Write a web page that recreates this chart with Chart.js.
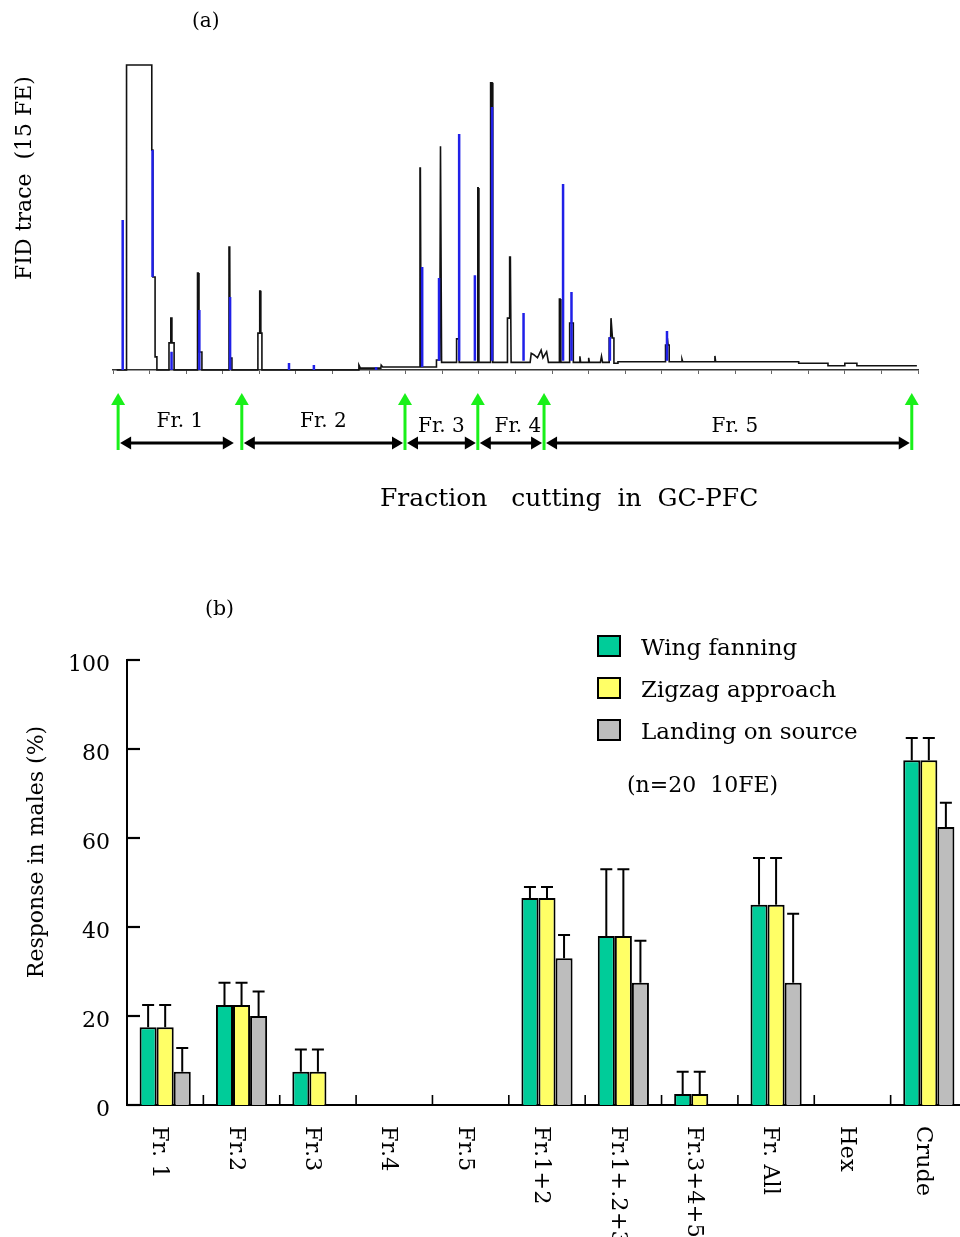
<!DOCTYPE html>
<html>
<head>
<meta charset="utf-8">
<script src="https://cdn.jsdelivr.net/npm/chart.js@4.4.1/dist/chart.umd.min.js"></script>
<style>
  html, body { margin: 0; padding: 0; background: #fff; overflow: hidden; width: 960px; height: 1237px; }
  #wrapA { position: absolute; left: 0; top: 0; width: 960px; height: 540px; }
  #wrapB { position: absolute; left: 0; top: 540px; width: 980px; height: 697px; }
</style>
</head>
<body>
<div id="wrapA"><canvas id="gc" width="960" height="540"></canvas></div>
<div id="wrapB"><canvas id="bio" width="980" height="697"></canvas></div>
<script>
const SERIF = '"DejaVu Serif", serif';

// ---------- (a) GC-FID trace, retention time (min) vs signal (% full scale) ----------
const blackTime = [2.70,2.97,2.97,3.66,3.66,3.69,3.69,3.75,3.75,3.80,3.80,
  4.13,4.13,4.18,4.18,4.21,4.21,4.27,4.27,
  4.90,4.91,4.93,4.95,5.03,5.03,
  5.75,5.77,5.79,5.80,5.85,5.85,
  6.56,6.56,6.60,6.61,6.63,6.64,6.67,6.67,
  9.31,9.32,9.36,9.92,9.93,9.97,
  10.97,10.99,11.00,11.02,11.44,11.44,11.53,11.55,11.56,11.58,
  11.99,11.99,12.06,12.06,
  12.55,12.57,12.58,12.60,
  12.91,12.92,12.96,12.98,
  13.38,13.38,13.43,13.44,13.46,13.48,
  14.00,14.03,14.10,14.20,14.30,14.35,14.45,14.50,
  14.79,14.80,14.82,14.84,
  15.08,15.08,15.18,15.18,
  15.35,15.36,15.38,15.59,15.60,15.62,15.92,15.95,15.98,
  16.16,16.16,16.20,16.21,16.23,16.25,16.29,16.29,16.40,16.40,
  17.70,17.70,17.74,17.75,17.77,17.80,17.80,
  18.14,18.15,18.17,
  19.04,19.05,19.07,
  21.34,21.34,22.14,22.14,22.60,22.60,22.93,22.93,24.57];
const blackSignal = [0,0,100,100,72.1,72.1,30.5,30.5,4.3,4.3,0,
  0,8.9,8.9,17.0,17.0,8.9,8.9,0,
  0,31.8,31.8,5.9,5.9,0,
  0,40.3,40.3,3.9,3.9,0,
  0,12.1,12.1,25.9,25.9,12.1,12.1,0,
  0,1.6,0.6,0.6,1.6,1.0,
  1.0,66.2,66.2,1.0,1.0,3.3,3.3,73.4,73.4,2.5,
  2.5,10.2,10.2,2.5,
  2.5,59.7,59.7,2.5,
  2.5,94.2,94.2,2.5,
  2.5,17.0,17.0,37.0,37.0,2.5,
  2.5,5.5,5.0,4.0,6.5,4.0,6.0,2.5,
  2.5,23.3,23.3,2.5,
  2.5,15.4,15.4,2.5,
  2.5,4.5,2.5,2.5,4.0,2.5,2.5,4.5,2.5,
  2.5,10.5,10.5,17.0,17.0,10.5,10.5,2.2,2.2,2.7,
  2.7,8.2,8.2,10.5,8.2,8.2,2.7,
  2.7,3.5,2.7,
  2.7,4.6,2.7,
  2.7,2.2,2.2,1.4,1.4,2.2,2.2,1.4,1.4];

// second (blue) trace: peak apexes drawn as vertical strokes
const blueTime = [2.865,3.68,4.20,4.96,5.80,7.41,8.09,9.79,11.05,11.51,12.06,12.49,12.96,13.82,14.90,15.13,16.18,17.74];
const blueFrom = [0,30.5,0,0,0,0,0,0,1,3,3,3,3,3,3,3,3,3];
const blueTo   = [49.2,72.1,6.0,19.7,23.9,2.3,1.6,1.0,33.8,30.2,77.4,31.1,86.2,18.7,61.0,25.6,10.8,12.8];

// fraction cut times (min) and fraction names
const cutTimes = [2.74, 6.12, 10.58, 12.57, 14.38, 24.43];
const fractionNames = ['Fr. 1', 'Fr. 2', 'Fr. 3', 'Fr. 4', 'Fr. 5'];

// ---------- (b) male responses ----------
const treatments = ['Fr. 1','Fr.2','Fr.3','Fr.4','Fr.5','Fr.1+2','Fr.1+.2+3','Fr.3+4+5','Fr. All','Hex','Crude'];
const wingFanning = [17.5, 22.5, 7.5, 0, 0, 46.5, 38, 2.5, 45, 0, 77.5];
const zigzag      = [17.5, 22.5, 7.5, 0, 0, 46.5, 38, 2.5, 45, 0, 77.5];
const landing     = [7.5, 20, 0, 0, 0, 33, 27.5, 0, 27.5, 0, 62.5];
const wingErr     = [5, 5, 5, 0, 0, 2.5, 15, 5, 10.5, 0, 5];
const zigzagErr   = [5, 5, 5, 0, 0, 2.5, 15, 5, 10.5, 0, 5];
const landingErr  = [5.3, 5.5, 0, 0, 0, 5.2, 9.4, 0, 15.5, 0, 5.4];
const yTickValues = [0, 20, 40, 60, 80, 100];

// ---------- build panel (a) ----------
const blackPoints = blackTime.map((t, i) => ({ x: t, y: blackSignal[i] }));
const bluePoints = [];
blueTime.forEach((t, i) => {
  bluePoints.push({ x: t, y: blueFrom[i] }, { x: t, y: blueTo[i] }, { x: t, y: null });
});

function arrowHead(ctx, x, y, dx, dy, len, half) {
  // triangle with tip at (x,y) pointing along (dx,dy)
  const px = -dy, py = dx;
  ctx.beginPath();
  ctx.moveTo(x, y);
  ctx.lineTo(x - dx * len + px * half, y - dy * len + py * half);
  ctx.lineTo(x - dx * len - px * half, y - dy * len - py * half);
  ctx.closePath();
  ctx.fill();
}

const gcDecor = {
  id: 'gcDecor',
  afterDraw(chart) {
    const ctx = chart.ctx;
    const xs = chart.scales.x;
    ctx.save();
    ctx.fillStyle = '#000';
    ctx.textBaseline = 'middle';
    ctx.font = '20px ' + SERIF;
    ctx.textAlign = 'left';
    ctx.fillText('(a)', 192, 22);

    ctx.save();
    ctx.translate(25, 178);
    ctx.rotate(-Math.PI / 2);
    ctx.textAlign = 'center';
    ctx.font = '22px ' + SERIF;
    ctx.fillText('FID trace  (15 FE)', 0, 0);
    ctx.restore();

    ctx.textAlign = 'left';
    ctx.font = '25px ' + SERIF;
    ctx.fillText('Fraction   cutting  in  GC-PFC', 380, 499);

    // fraction spans (double-headed arrows)
    const yArr = 443;
    ctx.strokeStyle = '#000';
    ctx.lineWidth = 3;
    for (let i = 0; i < fractionNames.length; i++) {
      const a = xs.getPixelForValue(cutTimes[i]) + 2;
      const b = xs.getPixelForValue(cutTimes[i + 1]) - (i === 0 ? 8 : 2);
      ctx.beginPath();
      ctx.moveTo(a + 6, yArr);
      ctx.lineTo(b - 6, yArr);
      ctx.stroke();
      arrowHead(ctx, a, yArr, -1, 0, 11, 6.5);
      arrowHead(ctx, b, yArr, 1, 0, 11, 6.5);
      ctx.font = '20px ' + SERIF;
      ctx.textAlign = 'center';
      const mid = (xs.getPixelForValue(cutTimes[i]) + xs.getPixelForValue(cutTimes[i + 1])) / 2;
      ctx.fillText(fractionNames[i], mid + (i >= 3 ? 7 : 0), i < 2 ? 422 : 427);
    }

    // cut markers (green arrows)
    ctx.strokeStyle = '#19f019';
    ctx.fillStyle = '#19f019';
    ctx.lineWidth = 3;
    cutTimes.forEach((t) => {
      const x = xs.getPixelForValue(t);
      ctx.beginPath();
      ctx.moveTo(x, 450);
      ctx.lineTo(x, 403);
      ctx.stroke();
      arrowHead(ctx, x, 393, 0, -1, 12, 7);
    });
    ctx.restore();
  }
};

new Chart(document.getElementById('gc'), {
  type: 'line',
  data: {
    datasets: [
      { label: 'blue', data: bluePoints, borderColor: '#2020e8', borderWidth: 2.5,
        pointRadius: 0, spanGaps: false, tension: 0, clip: false },
      { label: 'black', data: blackPoints, borderColor: '#111', borderWidth: 1.6,
        pointRadius: 0, tension: 0, clip: false }
    ]
  },
  options: {
    responsive: false,
    animation: false,
    events: [],
    layout: { padding: { left: 113, right: 42, top: 65, bottom: 166 } },
    plugins: { legend: { display: false }, tooltip: { enabled: false } },
    scales: {
      x: {
        type: 'linear', min: 2.6, max: 24.6,
        ticks: { display: false, stepSize: 1 },
        grid: { display: true, drawOnChartArea: false, drawTicks: true, tickLength: 4, color: '#666', lineWidth: 1 },
        border: { display: true, color: '#333', width: 1.5 },
        afterFit(s) { s.height = 4; }
      },
      y: { display: false, min: 0, max: 100 }
    }
  },
  plugins: [gcDecor]
});

// ---------- build panel (b) ----------
const errorSets = [wingErr, zigzagErr, landingErr];

const bioDecor = {
  id: 'bioDecor',
  afterDatasetsDraw(chart) {
    const ctx = chart.ctx;
    const ys = chart.scales.y;
    ctx.save();
    ctx.strokeStyle = '#000';
    ctx.lineWidth = 2;
    chart.data.datasets.forEach((ds, d) => {
      const meta = chart.getDatasetMeta(d);
      ds.data.forEach((v, i) => {
        const e = errorSets[d][i];
        if (!e) return;
        const x = meta.data[i].x;
        const y0 = ys.getPixelForValue(v);
        const y1 = ys.getPixelForValue(v + e);
        ctx.beginPath();
        ctx.moveTo(x, y0);
        ctx.lineTo(x, y1);
        ctx.moveTo(x - 6, y1);
        ctx.lineTo(x + 6, y1);
        ctx.stroke();
      });
    });
    ctx.restore();
  },
  afterDraw(chart) {
    const ctx = chart.ctx;
    const xs = chart.scales.x, ys = chart.scales.y;
    const area = chart.chartArea;
    ctx.save();
    ctx.strokeStyle = '#000';
    ctx.lineWidth = 2.2;
    // inward y ticks
    yTickValues.forEach((v) => {
      const y = ys.getPixelForValue(v);
      ctx.beginPath();
      ctx.moveTo(area.left, y);
      ctx.lineTo(area.left + 13, y);
      ctx.stroke();
    });
    // category dividers on the x axis
    ctx.lineWidth = 1.6;
    for (let i = 1; i < treatments.length; i++) {
      const x = (xs.getPixelForValue(i - 1) + xs.getPixelForValue(i)) / 2;
      ctx.beginPath();
      ctx.moveTo(x, area.bottom);
      ctx.lineTo(x, area.bottom - 10);
      ctx.stroke();
    }

    ctx.fillStyle = '#000';
    ctx.textBaseline = 'middle';
    // category labels, reading downward
    ctx.font = '22.5px ' + SERIF;
    treatments.forEach((lab, i) => {
      const x = xs.getPixelForValue(i) - 6;
      ctx.save();
      ctx.translate(x, area.bottom + 21);
      ctx.rotate(Math.PI / 2);
      ctx.textAlign = 'left';
      ctx.fillText(lab, 0, 0);
      ctx.restore();
    });

    // y title
    ctx.save();
    ctx.translate(37, 312);
    ctx.rotate(-Math.PI / 2);
    ctx.textAlign = 'center';
    ctx.font = '22px ' + SERIF;
    ctx.fillText('Response in males (%)', 0, 0);
    ctx.restore();

    ctx.textAlign = 'left';
    ctx.font = '20.5px ' + SERIF;
    ctx.fillText('(b)', 205, 70);

    // legend
    ctx.font = '23px ' + SERIF;
    chart.data.datasets.forEach((ds, d) => {
      const top = 96 + d * 42;
      ctx.fillStyle = ds.backgroundColor;
      ctx.fillRect(598, top, 22, 20);
      ctx.lineWidth = 2;
      ctx.strokeStyle = '#000';
      ctx.strokeRect(598, top, 22, 20);
      ctx.fillStyle = '#000';
      ctx.fillText(ds.label, 641, top + 13);
    });
    ctx.font = '22px ' + SERIF;
    ctx.fillText('(n=20  10FE)', 627, 246);
    ctx.restore();
  }
};

const barCommon = { borderColor: '#000', borderWidth: 2, barPercentage: 1, categoryPercentage: 0.67 };

new Chart(document.getElementById('bio'), {
  type: 'bar',
  data: {
    labels: treatments,
    datasets: [
      Object.assign({ label: 'Wing fanning', data: wingFanning, backgroundColor: '#00cc99' }, barCommon),
      Object.assign({ label: 'Zigzag approach', data: zigzag, backgroundColor: '#ffff66' }, barCommon),
      Object.assign({ label: 'Landing on source', data: landing, backgroundColor: '#bdbdbd' }, barCommon)
    ]
  },
  options: {
    responsive: false,
    animation: false,
    events: [],
    layout: { padding: { left: 0, right: 13, top: 120, bottom: 132 } },
    plugins: { legend: { display: false }, tooltip: { enabled: false } },
    scales: {
      x: {
        ticks: { display: false },
        grid: { display: false, drawTicks: false },
        border: { display: true, color: '#000', width: 2 },
        afterFit(s) { s.height = 0; }
      },
      y: {
        min: 0, max: 100,
        ticks: { stepSize: 20, color: '#000', padding: 17, labelOffset: 5, font: { family: SERIF, size: 22 } },
        grid: { display: false, drawTicks: false },
        border: { display: true, color: '#000', width: 2 },
        afterFit(s) { s.width = 127; }
      }
    }
  },
  plugins: [bioDecor]
});
</script>
</body>
</html>
